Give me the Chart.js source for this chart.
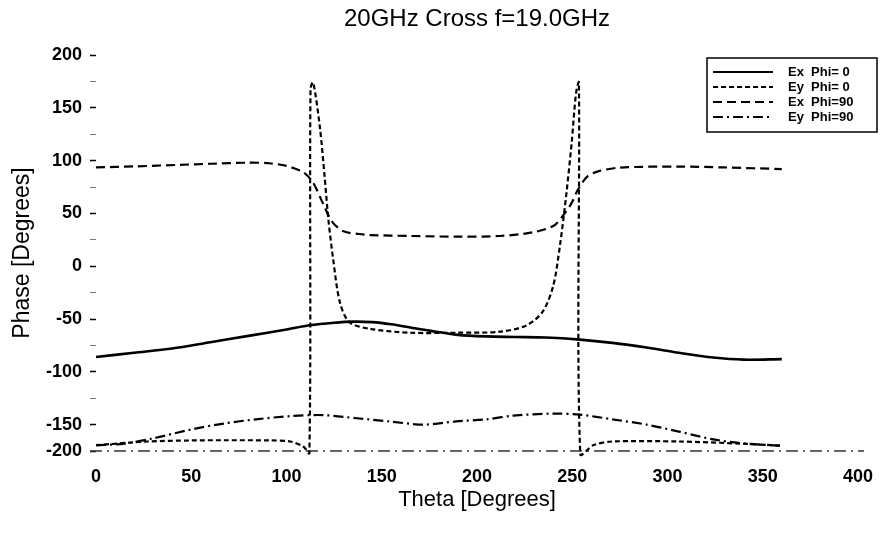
<!DOCTYPE html>
<html>
<head>
<meta charset="utf-8">
<title>20GHz Cross f=19.0GHz</title>
<script src="https://cdn.jsdelivr.net/npm/chart.js@4.4.1/dist/chart.umd.min.js"></script>
<style>
  html, body { margin: 0; padding: 0; background: #fff; }
</style>
</head>
<body>
<canvas id="phaseChart" width="885" height="546"></canvas>
<script>
// Values (theta in degrees, phase in degrees)
const exPhi0Theta = [0, 20, 40, 60, 80, 100, 112, 125, 135, 145, 155, 165, 175, 190, 205, 220, 236, 254, 271, 289, 306, 324, 340, 360];
const exPhi0 = [-86, -82, -78, -72, -66, -60, -56, -53.5, -52.5, -53, -55, -58, -61, -65, -66.5, -67, -67.5, -69.5, -72.6, -77, -82, -86.5, -88.5, -88];

const eyPhi0Theta = [0, 27, 50, 67, 91, 102, 109, 112, 112.6, 114, 117.5, 120, 122, 124.5, 128, 133, 144, 165, 190, 212, 226, 234.5, 240, 243.5, 247, 249.7, 252, 253.5, 254.2, 261, 271, 306, 338, 360];
const eyPhi0 = [-169.5, -166, -165, -164.8, -165, -166, -171, -177, 168, 174, 132, 85, 44, 6.6, -34, -53, -59.4, -63, -63, -62, -56, -43, -18.6, 19, 70, 117, 164, 174, -178, -169.5, -166, -166, -168, -170];

const exPhi90Theta = [0, 20, 44, 60, 79, 91, 100, 105, 109, 114, 119, 124, 130, 138, 144, 165, 190, 212, 229, 240, 245, 249.7, 253, 258, 264, 275, 306, 330, 360];
const exPhi90 = [93.5, 94.5, 96, 97, 98, 97.5, 95, 92, 89, 79, 60, 42, 33, 30.5, 29.5, 28.6, 28, 28.6, 32, 38, 47.5, 60, 72.6, 85, 90, 93.4, 94.3, 93.5, 92];

const eyPhi90Theta = [0, 15, 30, 49, 67, 84, 102, 119, 137, 154, 172, 189, 205, 219, 240, 254, 271, 289, 306, 324, 341, 360];
const eyPhi90 = [-169.5, -168, -163, -155, -149, -145, -142, -141, -144, -147, -150, -147, -145, -141.5, -139.6, -140.6, -145, -150, -156.6, -164, -168, -170];

const seriesLabels = ['Ex  Phi= 0', 'Ey  Phi= 0', 'Ex  Phi=90', 'Ey  Phi=90'];
const xTickValues = [0, 50, 100, 150, 200, 250, 300, 350, 400];
const yTickValues = [200, 150, 100, 50, 0, -50, -100, -150];
const yBottomLabel = '-200';
const chartTitle = '20GHz Cross f=19.0GHz';

const fontFamily = '"Liberation Sans", Arial, Helvetica, sans-serif';

function toPoints(theta, phase) {
    return theta.map((t, i) => ({ x: t, y: phase[i] }));
}

// Title, dash-dot base line and boxed legend, drawn the way the old plotting package did
const frame = {
    id: 'frame',
    beforeDatasetsDraw(chart) {
        const { ctx, chartArea } = chart;
        ctx.save();
        ctx.strokeStyle = '#333';
        ctx.lineWidth = 1.3;
        ctx.setLineDash([12, 5, 2, 5]);
        ctx.beginPath();
        ctx.moveTo(chartArea.left - 6, chartArea.bottom);
        ctx.lineTo(chartArea.right + 6, chartArea.bottom);
        ctx.stroke();
        ctx.restore();
    },
    afterDraw(chart) {
        const { ctx, chartArea } = chart;
        ctx.save();
        ctx.fillStyle = '#000';
        ctx.font = '24px ' + fontFamily;
        ctx.textAlign = 'center';
        ctx.textBaseline = 'middle';
        ctx.fillText(chartTitle, (chartArea.left + chartArea.right) / 2, 19);

        const bx = 707, by = 58, bw = 170, bh = 74;
        ctx.fillStyle = '#fff';
        ctx.fillRect(bx, by, bw, bh);
        ctx.strokeStyle = '#000';
        ctx.lineWidth = 1.5;
        ctx.setLineDash([]);
        ctx.strokeRect(bx, by, bw, bh);

        ctx.font = 'bold 13px ' + fontFamily;
        ctx.textAlign = 'left';
        ctx.fillStyle = '#000';
        chart.data.datasets.forEach((ds, i) => {
            const y = by + 14 + i * 15;
            ctx.beginPath();
            ctx.setLineDash(ds.borderDash || []);
            ctx.lineWidth = 2;
            ctx.moveTo(bx + 6, y);
            ctx.lineTo(bx + 66, y);
            ctx.stroke();
            ctx.setLineDash([]);
            ctx.fillText(ds.label, bx + 81, y);
        });
        ctx.restore();
    }
};

const isMajor = v => v % 50 === 0 || v === -175;

const ctx = document.getElementById('phaseChart').getContext('2d');
new Chart(ctx, {
    type: 'line',
    data: {
        datasets: [
            { label: seriesLabels[0], data: toPoints(exPhi0Theta, exPhi0), borderColor: '#000', borderWidth: 2.6, borderDash: [] },
            { label: seriesLabels[1], data: toPoints(eyPhi0Theta, eyPhi0), borderColor: '#000', borderWidth: 2.2, borderDash: [5, 3] },
            { label: seriesLabels[2], data: toPoints(exPhi90Theta, exPhi90), borderColor: '#000', borderWidth: 2.2, borderDash: [9, 5] },
            { label: seriesLabels[3], data: toPoints(eyPhi90Theta, eyPhi90), borderColor: '#000', borderWidth: 2.2, borderDash: [10, 4, 2, 4] }
        ]
    },
    options: {
        responsive: false,
        animation: false,
        events: [],
        datasets: {
            line: { pointRadius: 0, tension: 0.3, fill: false, clip: false }
        },
        layout: { padding: { top: 55, right: 27, left: 0, bottom: 0 } },
        plugins: {
            legend: { display: false },
            title: { display: false },
            tooltip: { enabled: false }
        },
        scales: {
            x: {
                type: 'linear',
                min: 0,
                max: 400,
                afterBuildTicks: scale => { scale.ticks = xTickValues.map(v => ({ value: v })); },
                afterFit: scale => { scale.height = 95; },
                grid: { display: false },
                border: { display: false },
                ticks: {
                    color: '#000',
                    padding: 7,
                    maxRotation: 0,
                    font: { family: fontFamily, size: 18, weight: 'bold' }
                },
                title: {
                    display: true,
                    text: 'Theta [Degrees]',
                    color: '#000',
                    font: { family: fontFamily, size: 22 },
                    padding: { top: 0, bottom: 33 }
                }
            },
            y: {
                type: 'linear',
                min: -175,
                max: 200,
                afterBuildTicks: scale => {
                    const vals = [];
                    for (let v = 200; v >= -175; v -= 25) vals.push({ value: v });
                    scale.ticks = vals;
                },
                afterFit: scale => { scale.width = 96; },
                grid: {
                    display: true,
                    drawOnChartArea: false,
                    drawTicks: true,
                    tickLength: 6,
                    tickColor: c => (c.tick && isMajor(c.tick.value)) ? '#000' : '#777',
                    tickWidth: c => (c.tick && isMajor(c.tick.value)) ? 1.5 : 1
                },
                border: { display: false },
                ticks: {
                    color: '#000',
                    padding: 8,
                    font: { family: fontFamily, size: 18, weight: 'bold' },
                    callback: v => {
                        if (v === -175) return yBottomLabel;
                        return yTickValues.includes(v) ? String(v) : '';
                    }
                },
                title: {
                    display: true,
                    text: 'Phase [Degrees]',
                    color: '#000',
                    font: { family: fontFamily, size: 23 },
                    padding: { top: 9, bottom: 0 }
                }
            }
        }
    },
    plugins: [frame]
});
</script>
</body>
</html>
